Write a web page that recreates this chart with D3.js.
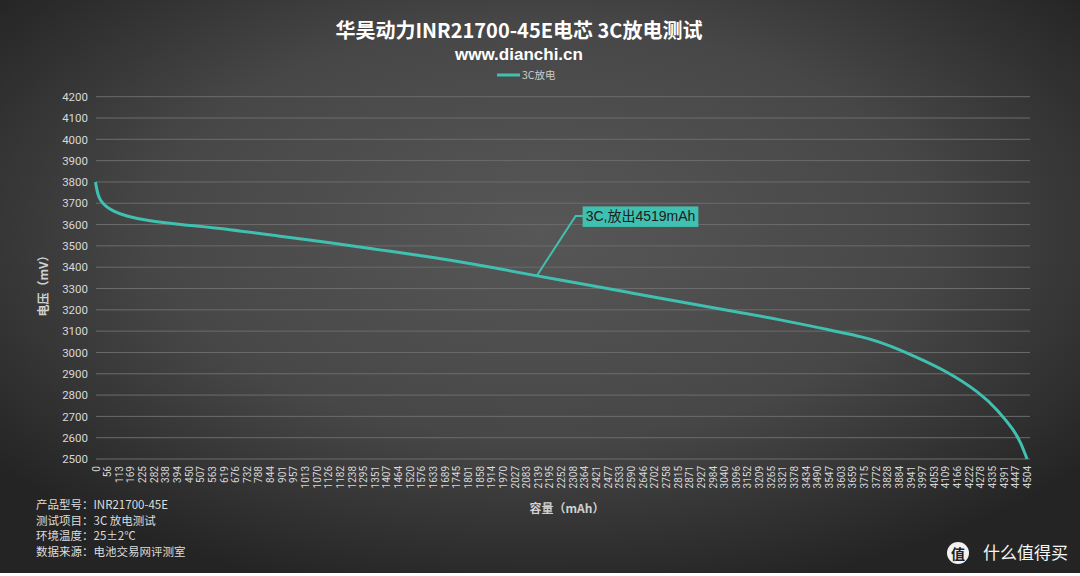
<!DOCTYPE html>
<html><head><meta charset="utf-8">
<script src="https://cdn.jsdelivr.net/npm/d3@7"></script>
<style>
html,body{margin:0;padding:0;background:#fff;}
svg{display:block;font-family:"Noto Sans CJK SC","Noto Sans",sans-serif;}
</style></head>
<body>
<svg id="chart" width="1080" height="576"></svg>
<script>
// ---- data ----
const capacity = [0, 4, 12, 24, 46, 85, 145, 248, 409, 650, 892, 1133, 1375, 1617, 1859, 2133, 2343, 2585, 2826, 3068, 3310, 3552, 3712, 3791, 3843, 3954, 4117, 4280, 4360, 4439, 4475, 4504];
const voltage  = [3800, 3775, 3740, 3712, 3688, 3662, 3640, 3618, 3600, 3578, 3545, 3515, 3481, 3449, 3410, 3359, 3324, 3280, 3238, 3196, 3154, 3105, 3073, 3049, 3030, 2985, 2912, 2808, 2732, 2638, 2575, 2500];
const xTickLabels = [0,56,113,169,225,282,338,394,450,507,563,619,676,732,788,844,901,957,1013,1070,1126,1182,1238,1295,1351,1407,1464,1520,1576,1633,1689,1745,1801,1858,1914,1970,2027,2083,2139,2195,2252,2308,2364,2421,2477,2533,2590,2646,2702,2758,2815,2871,2927,2984,3040,3096,3152,3209,3265,3321,3378,3434,3490,3547,3603,3659,3715,3772,3828,3884,3941,3997,4053,4109,4166,4222,4278,4335,4391,4447,4504];
const yTicks = [2500,2600,2700,2800,2900,3000,3100,3200,3300,3400,3500,3600,3700,3800,3900,4000,4100,4200];
const seriesName = "3C放电";
const annotationText = "3C,放出4519mAh";
const annotationAt = {cap: 2133, v: 3359};
const infoLines = ["产品型号：INR21700-45E","测试项目：3C 放电测试","环境温度：25±2℃","数据来源：电池交易网评测室"];
const titleText = "华昊动力INR21700-45E电芯 3C放电测试";
const subtitleText = "www.dianchi.cn";

const svg = d3.select("#chart");
const W = 1080, H = 576;
const defs = svg.append("defs");
const grad = defs.append("radialGradient").attr("id","bg")
  .attr("cx","50%").attr("cy","40%").attr("r","65%");
grad.append("stop").attr("offset","0%").attr("stop-color","#575757");
grad.append("stop").attr("offset","55%").attr("stop-color","#474747");
grad.append("stop").attr("offset","100%").attr("stop-color","#242424");
svg.append("rect").attr("width",W).attr("height",H).attr("fill","url(#bg)");
svg.append("rect").attr("y",573).attr("width",W).attr("height",3).attr("fill","#ffffff");

const x = d3.scaleLinear().domain([0,4504]).range([95.5,1027]);
const y = d3.scaleLinear().domain([2500,4200]).range([459,96.7]);

// gridlines
svg.append("g").selectAll("line").data(yTicks).join("line")
  .attr("x1",96).attr("x2",1030)
  .attr("y1",d=>y(d)).attr("y2",d=>y(d))
  .attr("stroke","#6c6c6c").attr("stroke-width",1);

// y axis labels
const yAxis = d3.axisLeft(y).tickValues(yTicks).tickSize(0).tickPadding(0).tickFormat(d3.format("d"));
const gy = svg.append("g").attr("transform","translate(88,0)").call(yAxis);
gy.select(".domain").remove();
gy.selectAll("text").attr("fill","#d8d8d8").style("font-size","11.5px")
  .style("font-family","Roboto,'Noto Sans',sans-serif");

// x axis labels
const xAxis = d3.axisBottom(x).tickValues(xTickLabels).tickSize(0).tickFormat(d=>String(d));
const gx = svg.append("g").attr("transform","translate(0,462)").call(xAxis);
gx.select(".domain").remove();
gx.selectAll("text")
  .attr("fill","#d8d8d8").style("font-size","10px")
  .style("font-family","Roboto,'Noto Sans',sans-serif")
  .attr("text-anchor","end").attr("dy","0.35em").attr("x",0).attr("y",0)
  .attr("transform","translate(0,4) rotate(-90)");

// axis titles
svg.append("text").attr("x",567).attr("y",513).attr("text-anchor","middle")
  .attr("fill","#d0d0d0").style("font-size","12px").style("font-weight","bold").text("容量（mAh）");
svg.append("text").attr("transform","translate(48,283) rotate(-90)").attr("text-anchor","middle")
  .attr("fill","#d0d0d0").style("font-size","12px").style("font-weight","bold").text("电压（mV）");

// line
const pts = capacity.map((c,i)=>[c,voltage[i]]);
const line = d3.line().x(d=>x(d[0])).y(d=>y(d[1])).curve(d3.curveBasis);
svg.append("path").datum(pts).attr("d",line).attr("fill","none")
  .attr("stroke","#3fc0b0").attr("stroke-width",3).attr("stroke-linejoin","round");

// annotation
const ax = x(annotationAt.cap), ay = y(annotationAt.v);
const bx = ax + 39, by = ay - 60;
svg.append("polyline").attr("points",`${ax},${ay} ${bx},${by} ${bx+8},${by}`)
  .attr("fill","none").attr("stroke","#3fc0b0").attr("stroke-width",2);
const ag = svg.append("g");
const at = ag.append("text").attr("x",bx+10).attr("y",by+5).attr("fill","#1c1c1c")
  .style("font-size","14px").style("font-family","'Liberation Sans',Arial,'Noto Sans CJK SC',sans-serif")
  .text(annotationText);
const bb = at.node().getBBox();
ag.insert("rect","text").attr("x",bx+7).attr("y",by-9.5).attr("width",bb.width+6).attr("height",20.5)
  .attr("fill","#3fc0b0");

// title
svg.append("text").attr("x",519).attr("y",38).attr("text-anchor","middle")
  .attr("fill","#ffffff").style("font-size","20px").style("font-weight","bold").text(titleText);
svg.append("text").attr("x",519).attr("y",60).attr("text-anchor","middle")
  .attr("fill","#ffffff").style("font-size","17px").style("font-weight","bold")
  .style("font-family","'Liberation Sans','Noto Sans',sans-serif").text(subtitleText);

// legend
svg.append("line").attr("x1",497).attr("x2",520).attr("y1",75).attr("y2",75)
  .attr("stroke","#3fc0b0").attr("stroke-width",3);
svg.append("text").attr("x",522).attr("y",79).attr("fill","#cccccc")
  .style("font-size","10.5px").text(seriesName);

// info
svg.append("g").selectAll("text").data(infoLines).join("text")
  .attr("x",36).attr("y",(d,i)=>509+i*15.5).attr("fill","#dddddd")
  .style("font-size","11.5px").text(d=>d);

// watermark
svg.append("circle").attr("cx",958).attr("cy",553).attr("r",11).attr("fill","#f2f2f2");
svg.append("text").attr("x",958).attr("y",558.5).attr("text-anchor","middle").attr("fill","#222")
  .style("font-size","14px").style("font-weight","bold").text("值");
svg.append("text").attr("x",983).attr("y",559).attr("fill","#f5f5f5")
  .style("font-size","17px").text("什么值得买");
</script>
</body></html>
